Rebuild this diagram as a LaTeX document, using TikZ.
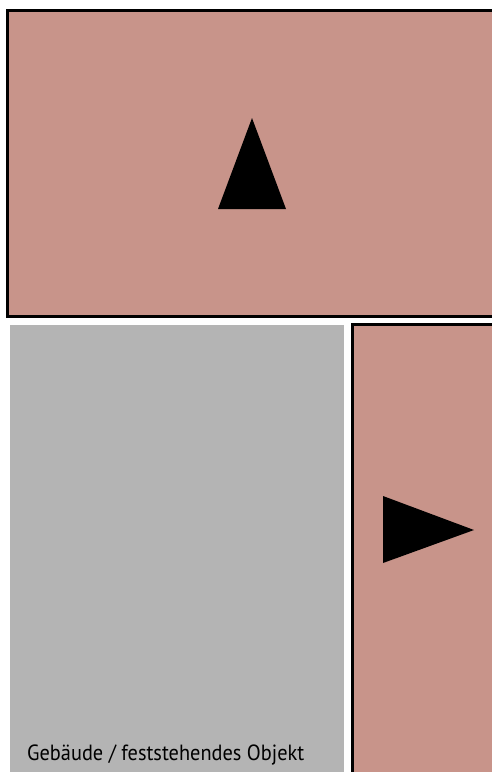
\documentclass[tikz,border=0pt]{standalone}
\usepackage{fontspec}
\setmainfont{PT Sans}
\definecolor{zonepink}{RGB}{200,148,138}
\definecolor{buildgray}{RGB}{180,180,180}
\tikzset{
  zone/.style={fill=zonepink, draw=black, line width=3pt},
  building/.style={fill=buildgray, draw=none},
  arrowtri/.style={fill=black, draw=none},
  caption/.style={anchor=base west, inner sep=0pt, font=\fontsize{22}{26}\selectfont}
}
\begin{document}
\begin{tikzpicture}[x=1pt,y=-1pt]
\useasboundingbox (0,0) rectangle (492,772);
\clip (0,0) rectangle (492,772);
\fill[white] (0,0) rectangle (492,772);
% top zone
\draw[zone] (7.5,10.5) rectangle (505,316.5);
\fill[arrowtri] (252,118) -- (286,209) -- (218,209) -- cycle;
% building
\fill[building] (10,325) rectangle (344,790);
% right zone
\draw[zone] (352.5,324.5) rectangle (505,790);
\fill[arrowtri] (383,496) -- (474,530) -- (383,563) -- cycle;
% caption
\node[caption] (cap) at (27,760) {\scalebox{0.925}[1]{Gebäude / feststehendes Objekt}};
\end{tikzpicture}
\end{document}
